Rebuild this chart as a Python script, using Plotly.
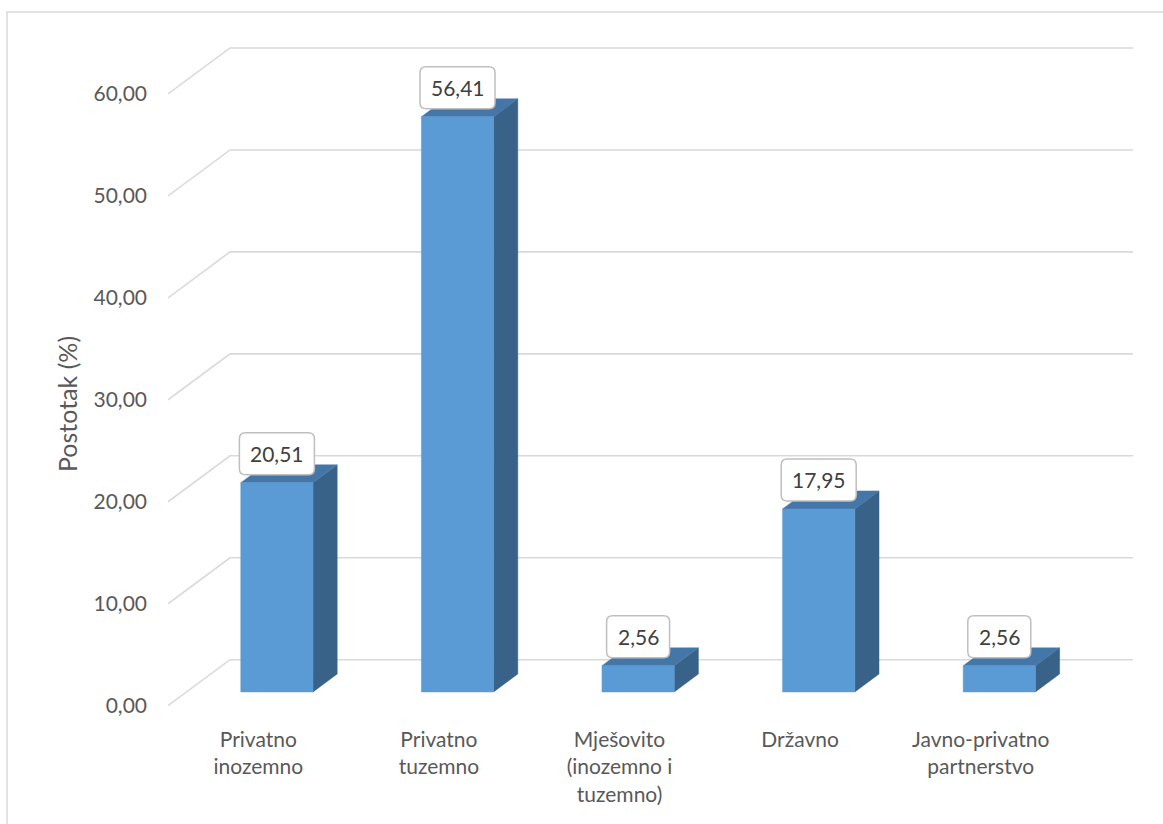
import plotly.graph_objects as go

# ---------------- data ----------------
categories = ["Privatno<br>inozemno", "Privatno<br>tuzemno",
              "Mješovito<br>(inozemno i<br>tuzemno)", "Državno",
              "Javno-privatno<br>partnerstvo"]
values = [20.51, 56.41, 2.56, 17.95, 2.56]
tick_values = [0, 10, 20, 30, 40, 50, 60]
axis_title = "Postotak (%)"

def fmt(v):
    return f"{v:.2f}".replace(".", ",")

tick_text = [fmt(t) for t in tick_values]
label_text = [fmt(v) for v in values]

# ---------------- geometry / style ----------------
W, H = 1163, 824
ML, MR, MT, MB = 168, 30, 43, 103
N = len(categories)
slot_px = (W - ML - MR - 62) / N          # front width of one category slot in px
DX = 62 / slot_px                          # depth offset in x (slot units)
Y_MIN, Y_MAX = -1.5, 65.0
ppu = (H - MT - MB) / (Y_MAX - Y_MIN)      # px per value unit
DY = 46 / ppu                              # depth offset in y (value units)
F0, F1 = 0.30, 0.69                        # bar front/back depth fractions
HALF = 0.2                                 # bar half width (slot units)

FONT = "Lato"
TXT = "#595959"
GRID = "#d9d9d9"
C_FRONT = "#5b9bd5"
C_TOP = "#4477a8"
C_SIDE = "#396289"

fig = go.Figure()

# gridlines: left wall (slanted) + back wall (horizontal)
gx, gy = [], []
for t in tick_values:
    gx += [0, DX, N + DX, None]
    gy += [t, t + DY, t + DY, None]
fig.add_trace(go.Scatter(x=gx, y=gy, mode="lines", line=dict(color=GRID, width=1.6),
                         hoverinfo="skip", showlegend=False))

# 3D bars
ax, ay = F0 * DX, F0 * DY
bx, by = F1 * DX, F1 * DY
for i, v in enumerate(values):
    cx = i + 0.5
    x0, x1 = cx - HALF, cx + HALF
    faces = [
        (C_SIDE, [x1 + ax, x1 + bx, x1 + bx, x1 + ax, x1 + ax],
                 [ay, by, v + by, v + ay, ay]),
        (C_TOP, [x0 + ax, x1 + ax, x1 + bx, x0 + bx, x0 + ax],
                [v + ay, v + ay, v + by, v + by, v + ay]),
        (C_FRONT, [x0 + ax, x1 + ax, x1 + ax, x0 + ax, x0 + ax],
                  [ay, ay, v + ay, v + ay, ay]),
    ]
    for col, fx, fy in faces:
        fig.add_trace(go.Scatter(x=fx, y=fy, mode="lines", fill="toself",
                                 fillcolor=col, line=dict(color=col, width=0.5),
                                 hoverinfo="skip", showlegend=False))

# data labels with rounded boxes
shapes = []
annotations = []
LBL_SHIFT = 29  # px above bar front top
BOX_H = 42
RAD = 6
for i, (v, s) in enumerate(zip(values, label_text)):
    X = i + 0.5 + ax
    Yc = v + ay + LBL_SHIFT / ppu
    bw = 12 * len(s) + 15
    hx = bw / 2 / slot_px
    hy = BOX_H / 2 / ppu
    rx = RAD / slot_px
    ry = RAD / ppu
    L, R, B, T = X - hx, X + hx, Yc - hy, Yc + hy
    path = (f"M {L + rx},{T} L {R - rx},{T} Q {R},{T} {R},{T - ry} "
            f"L {R},{B + ry} Q {R},{B} {R - rx},{B} "
            f"L {L + rx},{B} Q {L},{B} {L},{B + ry} "
            f"L {L},{T - ry} Q {L},{T} {L + rx},{T} Z")
    shapes.append(dict(type="path", path=path, xref="x", yref="y",
                       fillcolor="white", line=dict(color="#bfbfbf", width=1.5)))
    annotations.append(dict(x=X, y=Yc, xref="x", yref="y", text=s, showarrow=False,
                            xanchor="center", yanchor="middle",
                            font=dict(family=FONT, size=21, color="#404040")))

# chart border (left and top visible)
plot_w = W - ML - MR
plot_h = H - MT - MB
shapes.append(dict(type="rect", xref="paper", yref="paper",
                   x0=(7 - ML) / plot_w, x1=(W + 10 - ML) / plot_w,
                   y0=(H - MB - (H + 10)) / plot_h, y1=(H - MB - 12) / plot_h,
                   line=dict(color=GRID, width=1.5), layer="below"))

# axis title
annotations.append(dict(text=axis_title, textangle=-90, showarrow=False,
                        xref="paper", yref="paper",
                        x=(67 - ML) / plot_w, y=(H - MB - 404) / plot_h,
                        xanchor="center", yanchor="middle",
                        font=dict(family=FONT, size=25, color=TXT)))

fig.update_layout(
    width=W, height=H,
    margin=dict(l=ML, r=MR, t=MT, b=MB, pad=0),
    paper_bgcolor="white", plot_bgcolor="white",
    showlegend=False,
    shapes=shapes, annotations=annotations,
    xaxis=dict(range=[0, N + DX], tickvals=[i + 0.5 for i in range(N)],
               ticktext=categories, showgrid=False, zeroline=False, showline=False,
               ticks="", ticklabelstandoff=4,
               tickfont=dict(family=FONT, size=21, color=TXT), fixedrange=True),
    yaxis=dict(range=[Y_MIN, Y_MAX], tickvals=tick_values, ticktext=tick_text,
               showgrid=False, zeroline=False, showline=False, ticks="",
               ticklabelstandoff=20,
               tickfont=dict(family=FONT, size=21, color=TXT), fixedrange=True),
)

fig.write_html("out.html", config={"displayModeBar": False},
               post_script="document.body.style.margin='0';document.body.style.overflow='hidden';")
